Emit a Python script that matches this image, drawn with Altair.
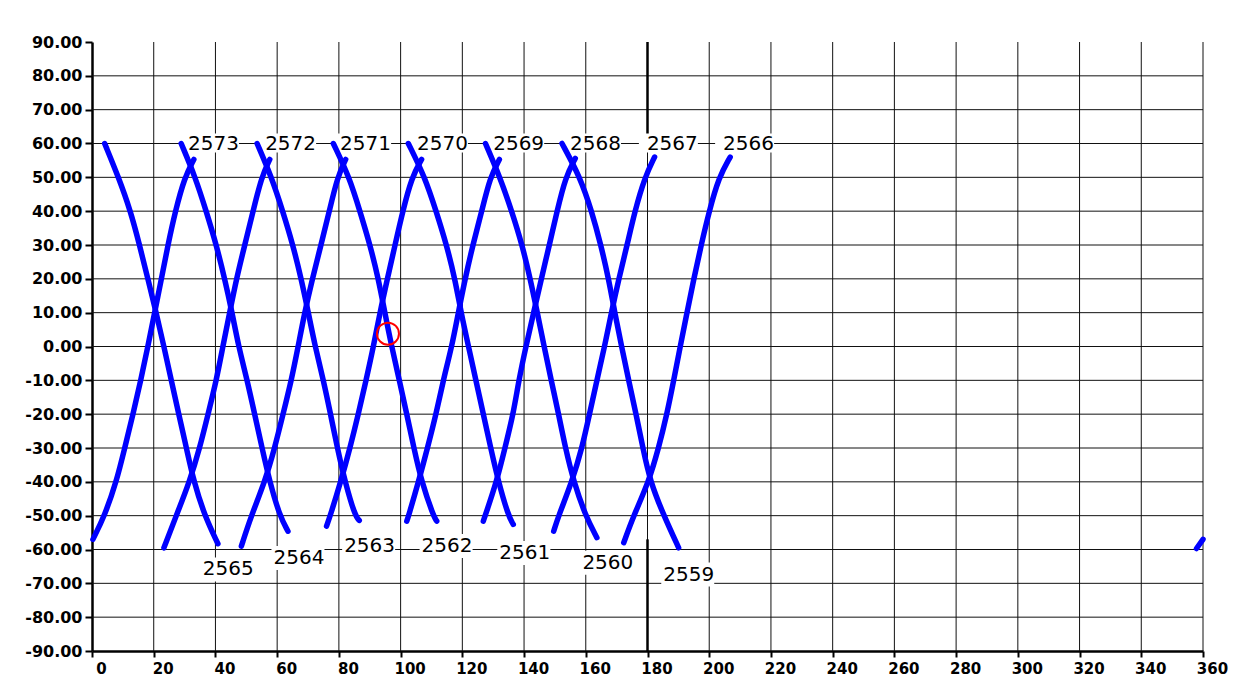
import altair as alt
import pandas as pd

# ---------------- data ----------------
lat_levels = [50, 40, 30, 20, 10, 0, -10, -20, -30, -40, -50]

# descending tracks (start at lat 60, end near -55..-60)
desc_names = ["2565", "2564", "2563", "2562", "2561", "2560", "2559"]
desc_top_lon = [4.1, 28.9, 53.5, 78.2, 102.5, 127.5, 152.3]
desc_top_lat = [60, 60, 60, 60, 60, 60, 60]
desc_d0 = [8.6, 12.5, 15.4, 18.1, 20.8, 23.3, 25.7, 28.1, 30.6, 33.0, 36.5]
desc_d1 = [33.5, 37.0, 40.3, 43.0, 45.4, 47.5, 50.3, 52.7, 55.1, 57.6, 60.8]
desc_d2 = [58.2, 61.8, 65.1, 67.8, 70.1, 72.3, 75.0, 77.3, 79.5, 82.0, 85.2]
desc_d3 = [83.4, 86.8, 90.1, 92.8, 94.9, 97.1, 99.6, 102.0, 104.3, 106.8, 110.6]
desc_d4 = [107.9, 111.5, 114.9, 117.6, 119.6, 122.0, 124.4, 126.8, 129.2, 131.7, 134.9]
desc_d5 = [132.2, 136.0, 139.4, 142.0, 144.3, 146.5, 148.8, 151.2, 153.4, 156.1, 159.9]
desc_d6 = [158.2, 161.9, 164.9, 167.4, 169.4, 171.6, 173.9, 176.3, 178.5, 180.9, 185.3]
desc_end_lon = [40.8, 63.5, 86.6, 111.7, 136.5, 163.6, 190.1]
desc_end_lat = [-58.3, -54.6, -51.4, -51.6, -52.6, -56.5, -59.5]

# ascending tracks (start near -52..-60, end near 55)
asc_names = ["2573", "2572", "2571", "2570", "2569", "2568", "2567", "2566"]
asc_start_lon = [0.3, 23.3, 48.4, 76.0, 102.0, 126.8, 149.6, 172.3]
asc_start_lat = [-57.0, -59.5, -59.0, -53.1, -51.6, -51.6, -54.6, -58.0]
asc_a0 = [30.0, 27.0, 24.6, 22.5, 20.3, 18.1, 15.8, 13.3, 10.6, 7.9, 4.1]
asc_a1 = [54.9, 52.2, 49.5, 46.8, 44.6, 42.4, 40.3, 37.6, 34.9, 31.6, 27.3]
asc_a2 = [79.5, 76.9, 74.2, 71.4, 68.9, 66.8, 64.6, 61.9, 59.2, 56.0, 51.6]
asc_a3 = [103.6, 100.7, 98.2, 95.7, 93.3, 91.2, 88.8, 86.3, 83.6, 80.6, 77.2]
asc_a4 = [129.0, 126.3, 123.4, 120.9, 118.7, 116.6, 113.8, 111.5, 108.7, 105.8, 102.6]
asc_a5 = [153.4, 150.7, 148.2, 145.6, 143.1, 140.6, 138.3, 136.5, 133.8, 131.1, 127.4]
asc_a6 = [179.1, 175.9, 173.4, 170.7, 168.3, 166.1, 163.6, 161.2, 158.8, 155.5, 151.2]
asc_a7 = [203.1, 200.0, 197.4, 195.0, 192.8, 190.6, 188.5, 186.3, 183.6, 180.4, 175.5]
asc_end_lon = [33.0, 57.6, 82.2, 106.8, 132.0, 156.6, 182.3, 206.8]
asc_end_lat = [55.3, 55.3, 55.3, 55.3, 55.3, 55.6, 56.0, 56.0]

# piece of track 2573 wrapped round to the right edge
wrap_lon = [357.9, 360.0]
wrap_lat = [-59.7, -57.0]

# track labels
top_label_text = asc_names
top_label_lon = [31.1, 56.1, 80.4, 105.3, 130.0, 154.9, 179.8, 204.5]
top_label_lat = [60, 60, 60, 60, 60, 60, 60, 60]
bottom_label_text = desc_names
bottom_label_lon = [35.9, 58.8, 81.7, 106.8, 132.0, 158.9, 185.1]
bottom_label_lat = [-65.9, -62.5, -59.0, -59.0, -61.0, -63.9, -67.4]

# red marker
marker_lon = [95.9]
marker_lat = [3.8]

# thick 180 marker line segments
cursor_lon = [180, 180]
cursor_lat = [90, -57]
cursor_lat2 = [61, -90]

# grid / tick values
grid_lon = list(range(20, 361, 20))
grid_lat = list(range(-80, 81, 10))
x_ticks = list(range(0, 361, 20))
y_ticks = list(range(-90, 91, 10))

# ---------------- build tables ----------------
rows = []
desc_mid = [desc_d0, desc_d1, desc_d2, desc_d3, desc_d4, desc_d5, desc_d6]
for i, name in enumerate(desc_names):
    lons = [desc_top_lon[i]] + desc_mid[i] + [desc_end_lon[i]]
    lats = [desc_top_lat[i]] + lat_levels + [desc_end_lat[i]]
    for k, (lo, la) in enumerate(zip(lons, lats)):
        rows.append({"seg": "d" + name, "seq": k, "lon": lo, "lat": la})
asc_mid = [asc_a0, asc_a1, asc_a2, asc_a3, asc_a4, asc_a5, asc_a6, asc_a7]
for i, name in enumerate(asc_names):
    lons = [asc_start_lon[i]] + asc_mid[i][::-1] + [asc_end_lon[i]]
    lats = [asc_start_lat[i]] + lat_levels[::-1] + [asc_end_lat[i]]
    for k, (lo, la) in enumerate(zip(lons, lats)):
        rows.append({"seg": "a" + name, "seq": k, "lon": lo, "lat": la})
for k, (lo, la) in enumerate(zip(wrap_lon, wrap_lat)):
    rows.append({"seg": "wrap", "seq": k, "lon": lo, "lat": la})
tracks = pd.DataFrame(rows)

top_labels = pd.DataFrame({"lon": top_label_lon, "lat": top_label_lat, "txt": top_label_text})
bottom_labels = pd.DataFrame({"lon": bottom_label_lon, "lat": bottom_label_lat, "txt": bottom_label_text})
marker = pd.DataFrame({"lon": marker_lon, "lat": marker_lat})
cursor = pd.DataFrame({"lon": cursor_lon, "lat": cursor_lat, "lat2": cursor_lat2})
vgrid = pd.DataFrame({"lon": grid_lon})
hgrid = pd.DataFrame({"lat": grid_lat})

W, H = 1111, 609
FONT = "DejaVu Sans"

xscale = alt.Scale(domain=[0, 360], nice=False, zero=False)
yscale = alt.Scale(domain=[-90, 90], nice=False, zero=False)

xaxis = alt.Axis(values=x_ticks, format="d", title=None, grid=False,
                 domainColor="black", domainWidth=2.5, tickColor="black",
                 tickSize=6, tickWidth=2, labelFont=FONT, labelFontWeight="bold",
                 labelFontSize=15, labelColor="black", labelOffset=9,
                 labelPadding=4, labelFlush=False, labelOverlap=False)
yaxis = alt.Axis(values=y_ticks, title=None, grid=False,
                 labelExpr="(datum.value < 0 ? '-' : '') + format(abs(datum.value), '.2f')",
                 domainColor="black", domainWidth=2.5, tickColor="black",
                 tickSize=7, tickWidth=2, labelFont=FONT, labelFontWeight="bold",
                 labelFontSize=16, labelColor="black", labelPadding=3,
                 labelFlush=False, labelOverlap=False)

X = alt.X("lon:Q", scale=xscale, axis=xaxis)
Y = alt.Y("lat:Q", scale=yscale, axis=yaxis)

vg = alt.Chart(vgrid).mark_rule(color="#111111", strokeWidth=1).encode(
    x=X, y=alt.value(0), y2=alt.value(H))
hg = alt.Chart(hgrid).mark_rule(color="#111111", strokeWidth=1).encode(
    y=Y, x=alt.value(0), x2=alt.value(W))
cur = alt.Chart(cursor).mark_rule(color="black", strokeWidth=2.5).encode(
    x=X, y=Y, y2=alt.Y2("lat2:Q"))

top_box = alt.Chart(top_labels).mark_rect(
    color="white", opacity=1, xOffset=-8, x2Offset=51, yOffset=-10, y2Offset=9
).encode(x=X, x2=alt.X2("lon:Q"), y=Y, y2=alt.Y2("lat:Q"))
bot_box = alt.Chart(bottom_labels).mark_rect(
    color="white", opacity=1, xOffset=-2, x2Offset=51, yOffset=-12, y2Offset=12
).encode(x=X, x2=alt.X2("lon:Q"), y=Y, y2=alt.Y2("lat:Q"))

lines = alt.Chart(tracks).mark_line(
    color="#0000FF", strokeWidth=5.5, strokeCap="round", strokeJoin="round",
    interpolate="basis"
).encode(x=X, y=Y, detail="seg:N", order="seq:Q")

top_txt = alt.Chart(top_labels).mark_text(
    align="left", baseline="middle", font=FONT, fontSize=20, color="black"
).encode(x=X, y=Y, text="txt:N")
bot_txt = alt.Chart(bottom_labels).mark_text(
    align="left", baseline="middle", font=FONT, fontSize=20, color="black"
).encode(x=X, y=Y, text="txt:N")

mk = alt.Chart(marker).mark_point(
    shape="circle", size=484, color="red", filled=False, strokeWidth=2, opacity=1
).encode(x=X, y=Y)

chart = alt.layer(vg, hg, cur, top_box, bot_box, lines, top_txt, bot_txt, mk).properties(
    width=W, height=H,
    padding={"left": 84, "top": 34, "right": 31, "bottom": 29},
    autosize=alt.AutoSizeParams(type="none"),
    background="white",
).configure_view(strokeWidth=0)

chart.save("out.html", embed_options={"renderer": "svg", "actions": False})
